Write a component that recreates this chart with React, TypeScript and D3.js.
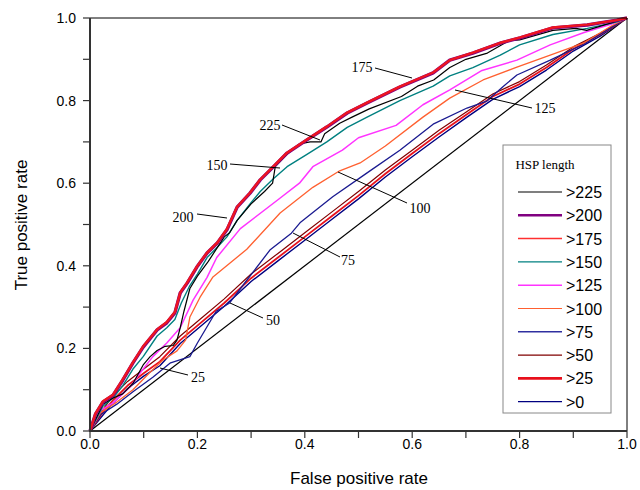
import React from "react";
import * as d3 from "d3";

type P = [number, number];

const xTicks = [0, 0.1, 0.2, 0.3, 0.4, 0.5, 0.6, 0.7, 0.8, 0.9, 1.0];
const tickLabels = ["0.0", "0.2", "0.4", "0.6", "0.8", "1.0"];
const labelTicks = [0, 0.2, 0.4, 0.6, 0.8, 1.0];

const legendNames = [">225", ">200", ">175", ">150", ">125", ">100", ">75", ">50", ">25", ">0"];
const legendColors = ["#000000", "#800080", "#FF3030", "#008080", "#FF33FF", "#FF6030", "#3030A0", "#800000", "#E8101C", "#000080"];
const legendWidths = [1.2, 2.5, 1.5, 1.2, 1.5, 1.2, 1.5, 1.2, 2.8, 1.2];

const roc200: P[] = [
  [0, 0], [0.01, 0.04], [0.024, 0.07], [0.043, 0.087], [0.061, 0.123], [0.08, 0.165], [0.099, 0.203],
  [0.125, 0.245], [0.143, 0.262], [0.158, 0.286], [0.168, 0.334], [0.181, 0.358], [0.199, 0.397],
  [0.218, 0.431], [0.237, 0.455], [0.255, 0.487], [0.274, 0.542], [0.298, 0.576], [0.317, 0.608],
  [0.341, 0.639], [0.367, 0.673], [0.404, 0.705], [0.441, 0.736], [0.479, 0.77], [0.516, 0.794],
  [0.577, 0.833], [0.639, 0.867], [0.67, 0.898], [0.713, 0.915], [0.764, 0.939], [0.801, 0.952],
  [0.862, 0.976], [0.926, 0.983], [0.981, 0.995], [1, 1],
];
const roc175: P[] = [
  [0, 0], [0.01, 0.042], [0.024, 0.072], [0.043, 0.088], [0.061, 0.125], [0.08, 0.166], [0.099, 0.205],
  [0.125, 0.246], [0.143, 0.264], [0.158, 0.288], [0.168, 0.335], [0.181, 0.36], [0.199, 0.398],
  [0.218, 0.432], [0.237, 0.456], [0.255, 0.489], [0.274, 0.543], [0.298, 0.577], [0.317, 0.609],
  [0.341, 0.64], [0.367, 0.674], [0.404, 0.706], [0.441, 0.737], [0.479, 0.771], [0.516, 0.795],
  [0.577, 0.834], [0.639, 0.868], [0.67, 0.898], [0.713, 0.916], [0.764, 0.94], [0.801, 0.953],
  [0.862, 0.977], [0.926, 0.984], [0.981, 0.995], [1, 1],
];
const roc225: P[] = [
  [0, 0], [0.024, 0.065], [0.043, 0.08], [0.061, 0.09], [0.08, 0.115], [0.099, 0.16], [0.112, 0.18],
  [0.125, 0.195], [0.14, 0.205], [0.155, 0.207], [0.162, 0.22], [0.168, 0.25], [0.175, 0.29],
  [0.186, 0.345], [0.2, 0.375], [0.22, 0.41], [0.24, 0.45], [0.25, 0.47], [0.26, 0.48], [0.274, 0.51],
  [0.3, 0.55], [0.325, 0.58], [0.34, 0.6], [0.345, 0.64], [0.367, 0.67], [0.39, 0.695], [0.41, 0.7],
  [0.43, 0.7], [0.437, 0.72], [0.465, 0.745], [0.488, 0.76], [0.52, 0.78], [0.58, 0.81], [0.61, 0.835],
  [0.64, 0.85], [0.67, 0.88], [0.7, 0.9], [0.74, 0.915], [0.78, 0.945], [0.8, 0.947], [0.862, 0.97],
  [0.905, 0.975], [0.925, 0.97], [0.963, 0.985], [1, 1],
];
const roc150: P[] = [
  [0, 0], [0.024, 0.06], [0.043, 0.08], [0.061, 0.11], [0.08, 0.15], [0.099, 0.18], [0.125, 0.23],
  [0.143, 0.25], [0.158, 0.27], [0.17, 0.31], [0.185, 0.35], [0.2, 0.38], [0.218, 0.42], [0.237, 0.445],
  [0.255, 0.47], [0.274, 0.51], [0.298, 0.55], [0.317, 0.58], [0.341, 0.61], [0.367, 0.64], [0.404, 0.67],
  [0.441, 0.7], [0.479, 0.735], [0.516, 0.76], [0.577, 0.8], [0.639, 0.835], [0.67, 0.86], [0.713, 0.88],
  [0.764, 0.91], [0.8, 0.935], [0.862, 0.96], [0.926, 0.975], [0.98, 0.99], [1, 1],
];
const roc125: P[] = [
  [0, 0], [0.02, 0.05], [0.043, 0.068], [0.075, 0.107], [0.093, 0.14], [0.117, 0.18], [0.143, 0.213],
  [0.168, 0.25], [0.192, 0.317], [0.218, 0.372], [0.236, 0.42], [0.28, 0.49], [0.35, 0.56], [0.39, 0.6],
  [0.415, 0.64], [0.47, 0.68], [0.5, 0.71], [0.57, 0.74], [0.62, 0.79], [0.67, 0.826], [0.73, 0.873],
  [0.795, 0.898], [0.857, 0.935], [0.92, 0.965], [0.97, 0.985], [1, 1],
];
const roc100: P[] = [
  [0, 0], [0.02, 0.045], [0.05, 0.07], [0.08, 0.1], [0.11, 0.14], [0.136, 0.172], [0.162, 0.194],
  [0.178, 0.22], [0.186, 0.276], [0.205, 0.324], [0.229, 0.373], [0.292, 0.44], [0.354, 0.528],
  [0.415, 0.59], [0.465, 0.63], [0.503, 0.649], [0.55, 0.69], [0.62, 0.76], [0.67, 0.806], [0.732, 0.85],
  [0.795, 0.881], [0.857, 0.91], [0.92, 0.94], [0.97, 0.98], [1, 1],
];
const roc75: P[] = [
  [0, 0], [0.02, 0.04], [0.05, 0.065], [0.08, 0.095], [0.117, 0.13], [0.15, 0.165], [0.186, 0.18],
  [0.2, 0.213], [0.235, 0.29], [0.26, 0.31], [0.292, 0.365], [0.335, 0.438], [0.375, 0.479],
  [0.391, 0.504], [0.452, 0.567], [0.516, 0.625], [0.577, 0.68], [0.639, 0.743], [0.702, 0.782],
  [0.739, 0.799], [0.77, 0.835], [0.795, 0.862], [0.857, 0.898], [0.92, 0.937], [0.987, 0.99], [1, 1],
];
const roc50: P[] = [
  [0, 0], [0.02, 0.045], [0.043, 0.085], [0.07, 0.12], [0.1, 0.15], [0.13, 0.18], [0.168, 0.23],
  [0.2, 0.265], [0.25, 0.32], [0.3, 0.38], [0.35, 0.43], [0.4, 0.48], [0.45, 0.53], [0.5, 0.58],
  [0.55, 0.632], [0.6, 0.68], [0.65, 0.728], [0.7, 0.772], [0.75, 0.816], [0.8, 0.846], [0.85, 0.886],
  [0.9, 0.93], [0.95, 0.963], [1, 1],
];
const roc25: P[] = [
  [0, 0], [0.02, 0.038], [0.043, 0.075], [0.07, 0.11], [0.1, 0.14], [0.13, 0.168], [0.168, 0.22],
  [0.2, 0.255], [0.25, 0.31], [0.3, 0.37], [0.35, 0.42], [0.4, 0.47], [0.45, 0.52], [0.5, 0.57],
  [0.55, 0.623], [0.6, 0.672], [0.65, 0.72], [0.7, 0.765], [0.75, 0.81], [0.8, 0.84], [0.85, 0.88],
  [0.9, 0.925], [0.95, 0.96], [1, 1],
];
const roc0: P[] = [
  [0, 0], [0.02, 0.032], [0.043, 0.068], [0.07, 0.103], [0.1, 0.133], [0.13, 0.158], [0.168, 0.212],
  [0.2, 0.247], [0.25, 0.302], [0.3, 0.362], [0.35, 0.412], [0.4, 0.462], [0.45, 0.512], [0.5, 0.562],
  [0.55, 0.615], [0.6, 0.664], [0.65, 0.712], [0.7, 0.758], [0.75, 0.803], [0.8, 0.834], [0.85, 0.874],
  [0.9, 0.92], [0.95, 0.956], [1, 1],
];
const diagonal: P[] = [[0, 0], [1, 1]];

const annotations = [
  { text: "175", tx: 362, ty: 72, x1: 375, y1: 68, x2: 412, y2: 78 },
  { text: "125", tx: 545, ty: 113, x1: 532, y1: 108, x2: 455, y2: 90 },
  { text: "100", tx: 420, ty: 213, x1: 407, y1: 203, x2: 338, y2: 172 },
  { text: "225", tx: 270, ty: 130, x1: 282, y1: 125, x2: 320, y2: 140 },
  { text: "150", tx: 217, ty: 170, x1: 230, y1: 164, x2: 280, y2: 168 },
  { text: "200", tx: 183, ty: 222, x1: 197, y1: 214, x2: 227, y2: 218 },
  { text: "75", tx: 348, ty: 265, x1: 340, y1: 257, x2: 293, y2: 233 },
  { text: "50", tx: 273, ty: 325, x1: 263, y1: 318, x2: 230, y2: 303 },
  { text: "25", tx: 198, ty: 382, x1: 188, y1: 375, x2: 160, y2: 368 },
];

const L = 90, R = 627, T = 18, B = 431;

export default function App() {
  const x = d3.scaleLinear().domain([0, 1]).range([L, R]);
  const y = d3.scaleLinear().domain([0, 1]).range([B, T]);
  const line = d3.line<P>().x((d) => x(d[0])).y((d) => y(d[1]));
  const curves: { data: P[]; color: string; w: number }[] = [
    { data: diagonal, color: "#000", w: 1.2 },
    { data: roc0, color: legendColors[9], w: 1.4 },
    { data: roc25, color: legendColors[8], w: 1.8 },
    { data: roc50, color: legendColors[7], w: 1.2 },
    { data: roc75, color: "#1A1A90", w: 1.3 },
    { data: roc100, color: legendColors[5], w: 1.3 },
    { data: roc125, color: legendColors[4], w: 1.5 },
    { data: roc150, color: legendColors[3], w: 1.4 },
    { data: roc225, color: legendColors[0], w: 1.2 },
    { data: roc200, color: legendColors[1], w: 3.4 },
    { data: roc175, color: "#EE1520", w: 2.4 },
  ];
  const sans = "Arial, 'Liberation Sans', sans-serif";
  const serif = "'Times New Roman', 'Liberation Serif', serif";
  return (
    <svg width={640} height={490} style={{ position: "absolute", left: 0, top: 0, background: "#fff" }}>
      <rect x={0} y={0} width={640} height={490} fill="#fff" />
      {curves.map((c, i) => (
        <path key={i} d={line(c.data) || ""} fill="none" stroke={c.color} strokeWidth={c.w} strokeLinejoin="round" />
      ))}
      {annotations.map((a, i) => (
        <g key={"a" + i}>
          <line x1={a.x1} y1={a.y1} x2={a.x2} y2={a.y2} stroke="#000" strokeWidth={1} />
          <text x={a.tx} y={a.ty} textAnchor="middle" fontFamily={serif} fontSize={14} fill="#000">{a.text}</text>
        </g>
      ))}
      {/* frame */}
      <line x1={L} y1={T} x2={R} y2={T} stroke="#000" strokeWidth={1} />
      <line x1={R} y1={T} x2={R} y2={B} stroke="#000" strokeWidth={1} />
      <line x1={L} y1={T} x2={L} y2={B + 1} stroke="#333" strokeWidth={2} />
      <line x1={L - 1} y1={B} x2={R} y2={B} stroke="#333" strokeWidth={2} />
      {xTicks.map((t, i) => (
        <g key={"xt" + i}>
          <line x1={x(t)} y1={B} x2={x(t)} y2={B + 7} stroke="#333" strokeWidth={1.2} />
          <line x1={L} y1={y(t)} x2={L - 7} y2={y(t)} stroke="#333" strokeWidth={1.2} />
        </g>
      ))}
      {labelTicks.map((t, i) => (
        <g key={"lb" + i}>
          <text x={x(t)} y={449} textAnchor="middle" fontFamily={sans} fontSize={14} fill="#000">{tickLabels[i]}</text>
          <text x={76} y={y(t) + 5} textAnchor="end" fontFamily={sans} fontSize={14} fill="#000">{tickLabels[i]}</text>
        </g>
      ))}
      <text x={359} y={484} textAnchor="middle" fontFamily={sans} fontSize={17} fill="#000">False positive rate</text>
      <text transform="translate(27,225) rotate(-90)" textAnchor="middle" fontFamily={sans} fontSize={17} fill="#000">True positive rate</text>
      {/* legend */}
      <rect x={503} y={145} width={108} height={268} fill="#fff" stroke="#888" strokeWidth={1} />
      <text x={545} y={169} textAnchor="middle" fontFamily={serif} fontSize={13} fill="#000">HSP length</text>
      {legendNames.map((n, i) => {
        const ly = 192 + i * 23.3;
        return (
          <g key={"lg" + i}>
            <line x1={518} y1={ly} x2={562} y2={ly} stroke={legendColors[i]} strokeWidth={legendWidths[i]} />
            <text x={566} y={ly + 6} fontFamily={sans} fontSize={16} fill="#000">{n}</text>
          </g>
        );
      })}
    </svg>
  );
}
